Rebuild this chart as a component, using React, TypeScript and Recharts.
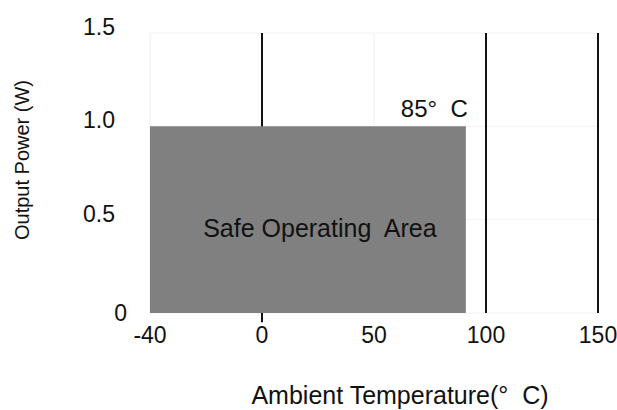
import React from "react";
import {
  Area,
  CartesianGrid,
  ComposedChart,
  Label,
  ReferenceArea,
  ReferenceLine,
  XAxis,
  YAxis,
} from "recharts";

// axis ticks (the original spaces the temperature ticks evenly)
const TEMP_TICKS = [-40, 0, 50, 100, 150];
const POWER_TICKS = [0, 0.5, 1.0, 1.5];
// black gridlines at these temperatures, the others are faint
const DARK_TEMPS = [0, 100, 150];

// safe operating area: max output power over the temperature range
const SOA_TEMP = [-40, 91];
const SOA_POWER = [1.0, 1.0];
const SOA_TEXT = "Safe Operating  Area";
const RATED_TEXT = "85°  C";

const FONT = '"Liberation Sans", Arial, sans-serif';
const FILL = "#808080";

// piecewise position on the evenly spaced tick axis
function tempToPos(t: number) {
  for (let i = 0; i < TEMP_TICKS.length - 1; i++) {
    const a = TEMP_TICKS[i];
    const b = TEMP_TICKS[i + 1];
    if (t <= b) return i + (t - a) / (b - a);
  }
  return TEMP_TICKS.length - 1;
}

const posTicks = TEMP_TICKS.map((_, i) => i);
const darkPos = DARK_TEMPS.map(tempToPos);
const zeroPos = tempToPos(0);

function XTick(props: any) {
  const { x, y, payload } = props;
  return (
    <text x={x} y={y} dy="0.71em" textAnchor="middle" fontSize={23} fill="#111" fontFamily={FONT}>
      {TEMP_TICKS[payload.value]}
    </text>
  );
}

function YTick(props: any) {
  const { x, y, payload } = props;
  const v = payload.value as number;
  // the zero label sits a little closer to the plot in the original
  return (
    <text
      x={v === 0 ? x + 12 : x}
      y={v === 0 ? y : y - 6}
      dy="0.355em"
      textAnchor="end"
      fontSize={23}
      fill="#111"
      fontFamily={FONT}
    >
      {v === 0 ? "0" : v.toFixed(1)}
    </text>
  );
}

function vLine(p: any) {
  const dark = darkPos.some((d) => Math.abs(d - p.index) < 1e-6);
  return (
    <line
      key={p.key ?? `v-${p.index}`}
      x1={p.x1}
      x2={p.x2}
      y1={p.y1}
      y2={p.y2}
      stroke={dark ? "#111" : "#eeeeee"}
      strokeWidth={dark ? 2 : 1}
    />
  );
}

function hLine(p: any) {
  return (
    <line key={p.key ?? `h-${p.index}`} x1={p.x1} x2={p.x2} y1={p.y1} y2={p.y2} stroke="#f2f2f2" strokeWidth={1} />
  );
}

export default function App() {
  const data = SOA_TEMP.map((t, i) => ({ pos: tempToPos(t), power: SOA_POWER[i] }));
  return (
    <div style={{ position: "absolute", left: 0, top: 0, background: "#fff" }}>
      <ComposedChart
        width={617}
        height={410}
        data={data}
        margin={{ top: 33, right: 19, left: 0, bottom: 0 }}
        style={{ fontFamily: FONT }}
      >
        <CartesianGrid vertical={vLine} horizontal={hLine} />
        <XAxis
          dataKey="pos"
          type="number"
          domain={[0, TEMP_TICKS.length - 1]}
          ticks={posTicks}
          interval={0}
          axisLine={false}
          tickLine={false}
          tickSize={0}
          tickMargin={14}
          height={97}
          tick={<XTick />}
        >
          <Label
            content={(p: any) => {
              const vb = p.viewBox;
              return (
                <text
                  x={vb.x + vb.width / 2 + 26}
                  y={395}
                  dy="0.355em"
                  textAnchor="middle"
                  fontSize={25}
                  fill="#111"
                  fontFamily={FONT}
                  style={{ whiteSpace: "pre" }}
                >
                  Ambient Temperature(°  C)
                </text>
              );
            }}
          />
        </XAxis>
        <YAxis
          type="number"
          domain={[POWER_TICKS[0], POWER_TICKS[POWER_TICKS.length - 1]]}
          ticks={POWER_TICKS}
          interval={0}
          axisLine={false}
          tickLine={false}
          tickSize={0}
          tickMargin={35}
          width={150}
          tick={<YTick />}
        >
          <Label
            content={() => (
              <text
                x={22}
                y={160}
                dy="0.355em"
                textAnchor="middle"
                fontSize={20}
                fill="#111"
                fontFamily={FONT}
                transform="rotate(-90 22 160)"
              >
                Output Power (W)
              </text>
            )}
          />
        </YAxis>
        <Area
          dataKey="power"
          type="linear"
          baseValue={0}
          fill={FILL}
          fillOpacity={1}
          stroke="none"
          dot={false}
          activeDot={false}
          isAnimationActive={false}
        />
        {/* short tick under the 0 °C line, below the plot */}
        <ReferenceLine
          segment={[
            { x: zeroPos, y: 0 },
            { x: zeroPos, y: -0.05 },
          ]}
          stroke="#111"
          strokeWidth={2}
          ifOverflow="visible"
        />
        <ReferenceArea
          x1={tempToPos(SOA_TEMP[0])}
          x2={tempToPos(SOA_TEMP[1])}
          y1={0}
          y2={SOA_POWER[1]}
          fill="none"
          stroke="none"
          ifOverflow="visible"
        >
          <Label
            content={(p: any) => {
              const vb = p.viewBox;
              return (
                <text
                  x={vb.x + vb.width / 2 + 12}
                  y={vb.y + vb.height / 2 + 8}
                  dy="0.355em"
                  textAnchor="middle"
                  fontSize={25}
                  fill="#111"
                  fontFamily={FONT}
                  style={{ whiteSpace: "pre" }}
                >
                  {SOA_TEXT}
                </text>
              );
            }}
          />
          <Label
            content={(p: any) => {
              const vb = p.viewBox;
              return (
                <text
                  x={vb.x + vb.width + 2}
                  y={vb.y - 18}
                  dy="0.355em"
                  textAnchor="end"
                  fontSize={24}
                  fill="#111"
                  fontFamily={FONT}
                  style={{ whiteSpace: "pre" }}
                >
                  {RATED_TEXT}
                </text>
              );
            }}
          />
        </ReferenceArea>
      </ComposedChart>
    </div>
  );
}
